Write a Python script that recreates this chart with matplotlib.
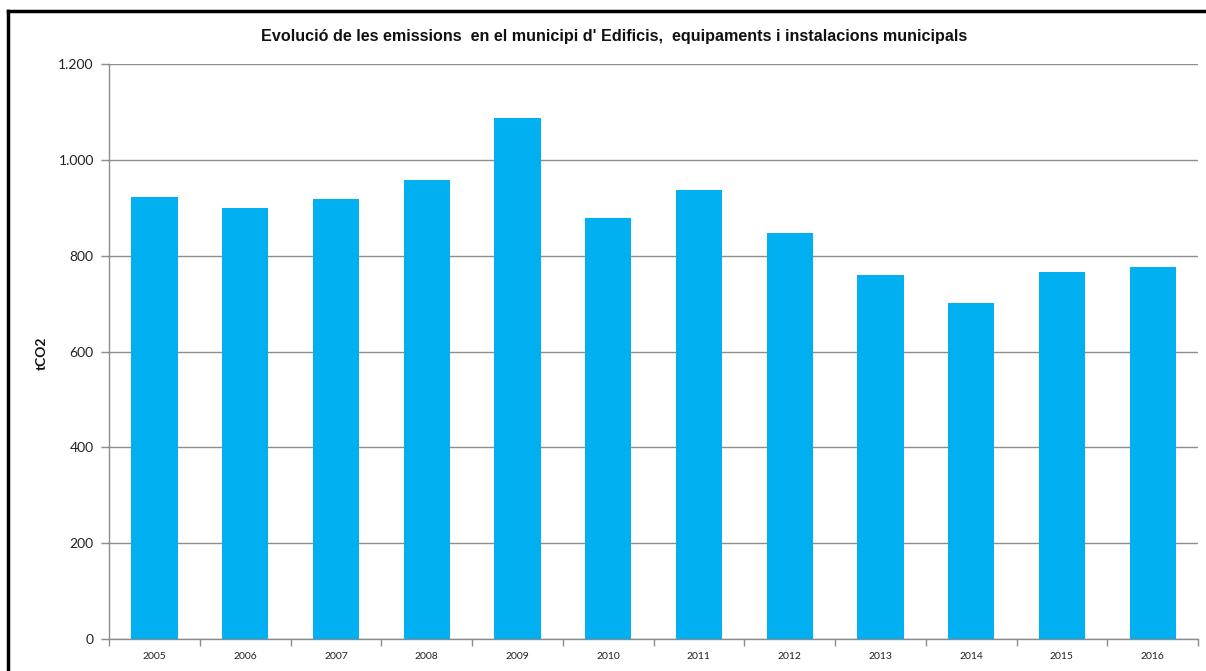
import matplotlib
matplotlib.use("Agg")
import matplotlib.pyplot as plt
from matplotlib.lines import Line2D

years = ["2005", "2006", "2007", "2008", "2009", "2010", "2011", "2012", "2013", "2014", "2015", "2016"]
emissions = [922, 901, 918, 958, 1089, 880, 937, 847, 759, 702, 767, 777]
yticks = [0, 200, 400, 600, 800, 1000, 1200]
ytick_labels = ["0", "200", "400", "600", "800", "1.000", "1.200"]

title = "Evolució de les emissions  en el municipi d' Edificis,  equipaments i instalacions municipals"

fig = plt.figure(figsize=(12.06, 6.71), dpi=100)
fig.patch.set_facecolor("white")
ax = fig.add_axes([0.0904, 0.0484, 0.9030, 0.8555])

grid_c = "#8c8c8c"
x = list(range(len(years)))
ax.bar(x, emissions, width=0.51, color="#00B0F0", zorder=3)

ax.set_xlim(-0.5, len(years) - 0.5)
ax.set_ylim(0, 1200)
ax.set_yticks(yticks)
ax.set_yticklabels(ytick_labels)
ax.yaxis.grid(True, color=grid_c, linewidth=1.0, zorder=0)

ax.set_xticks([i - 0.5 for i in range(len(years) + 1)])
ax.set_xticklabels([])
ax.set_xticks(x, minor=True)
ax.set_xticklabels(years, minor=True)
ax.tick_params(axis="x", which="major", length=5, color=grid_c, width=1, direction="out")
ax.tick_params(axis="x", which="minor", length=0, labelsize=7.5, pad=10, labelcolor="#222222")
ax.tick_params(axis="y", length=6, color=grid_c, width=1, labelsize=10, pad=5, labelcolor="#222222")
for lbl in ax.get_xticklabels(minor=True) + ax.get_yticklabels():
    lbl.set_family("Lato")

for s in ["top", "right"]:
    ax.spines[s].set_visible(False)
for s in ["left", "bottom"]:
    ax.spines[s].set_color(grid_c)
    ax.spines[s].set_linewidth(1.0)

fig.text(0.035, 0.474, "tCO2", rotation=90, ha="center", va="center",
         fontsize=10, fontweight="bold", family="Lato", color="#111111")

fig.text(0.509, 0.945, title, ha="center", va="center", fontsize=11.6,
         fontweight="bold", family="Liberation Sans", color="#111111")

# outer frame (top and left edges visible)
fig.add_artist(Line2D([0.0066, 1.0], [0.9836, 0.9836], transform=fig.transFigure, color="black", linewidth=2.5))
fig.add_artist(Line2D([0.0066, 0.0066], [0.0, 0.9836], transform=fig.transFigure, color="black", linewidth=2.5))

fig.savefig("out.png", dpi=100, facecolor="white")
